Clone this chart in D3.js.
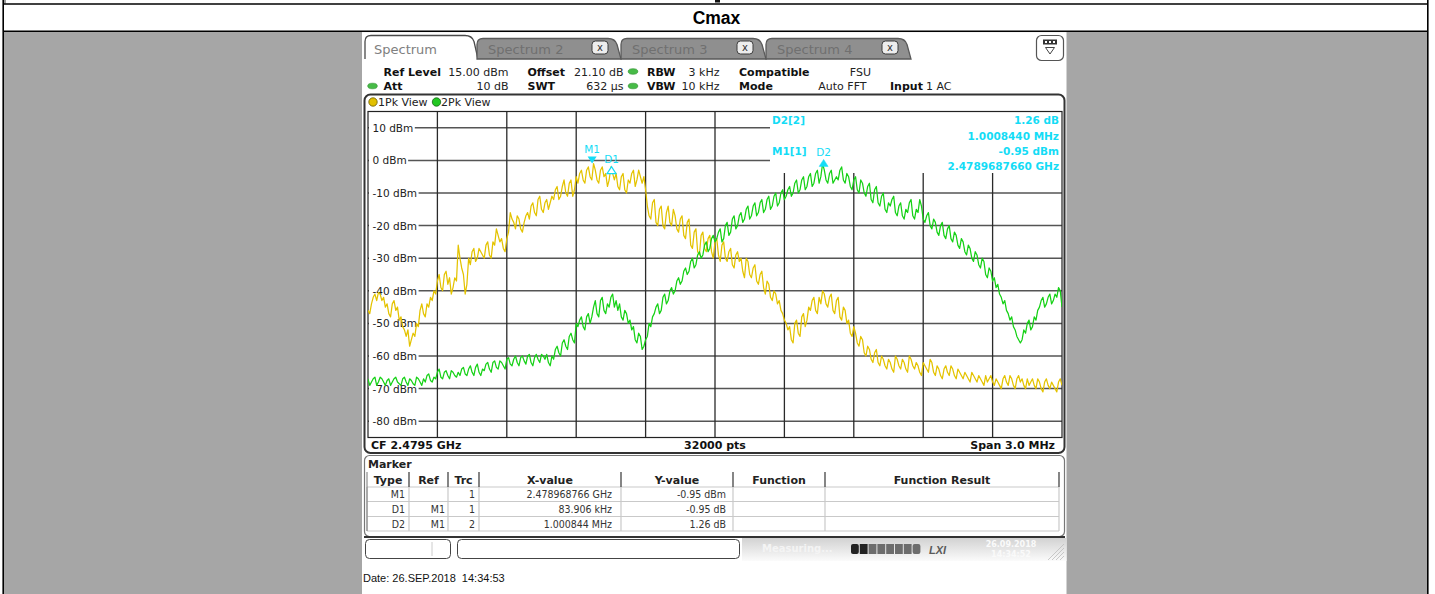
<!DOCTYPE html>
<html><head><meta charset="utf-8">
<script src="https://cdn.jsdelivr.net/npm/d3@7"></script>
<style>
html,body{margin:0;padding:0;background:#fff;}
svg{display:block;}
text{white-space:pre;}
</style></head><body>
<svg id="c" width="1435" height="594"></svg>
<script>
// ---------------- DATA ----------------
const chartTitle = "Cmax";
const startMHz = 2478.0;      // CF 2.4795 GHz, span 3.0 MHz
const stopMHz = 2481.0;
const refLevel = 15;          // dBm (top of grid)
const bottomLevel = -85;      // dBm (bottom of grid)
const yTickValues = [10, 0, -10, -20, -30, -40, -50, -60, -70, -80];
const xGridFreqs = [2478.3, 2478.6, 2478.9, 2479.2, 2479.5, 2479.8, 2480.1, 2480.4, 2480.7];
const sampleStepMHz = 0.0075;

// Trace 1 (1Pk View, yellow), dBm, every 15 kHz
const trace1Main = [
 -46,-44,-41,-40.5,-43,-45,-47,-44,-46,-49,-51,
 -54,-57,-53,-50,-46,-47,-44,-42,-40,-37,
 -39,-35,-38,-41,-36,-26,-33,-41,-30,-28,
 -31,-27,-29,-26,-29,-25,-21,-25,-27,-24,
 -16,-19,-17,-21,-19,-16,-14,-16,-12,-15,
 -13,-15,-11,-9,-12,-8,-10,-7,-11,-5,
 -4,-6,-3,-5,-1,-6,-3,-5,-8,-2,
 -6,-8,-5,-9,-6,-4,-8,-3,-7,-9,
 -17,-13,-19,-15,-20,-16,-19,-15,-21,-18,
 -23,-19,-26,-22,-28,-23,-27,-24,-28,-25,
 -29,-26,-30,-28,-32,-29,-31,-34,-30,-35,
 -33,-37,-35,-39,-37,-42,-40,-44,-46,-49,
 -52,-55,-50,-53,-48,-51,-45,-43,-46,-42,
 -40,-44,-42,-46,-43,-48,-45,-50,-53,-51,
 -56,-54,-59,-57,-61,-59,-62,-60,-63,-61,
 -64,-60,-63,-61,-64,-60,-63,-62,-65,-62,
 -64,-61,-65,-63,-66,-64,-65,-63,-66,-64,
 -66,-65,-67,-65,-67,-66,-68,-66,-67,-68,
 -67,-69,-67,-68,-66,-69,-67,-68,-69,-67,
 -68,-69,-67,-70,-68,-69,-68,-70,-68,-69
];
// Trace 1, the readings half-way between the samples above (noise peaks/dips)
const trace1Between = [
 -47,-42,-43,-41,-42,-44,-48,-43,-45,-48,
 -52,-52,-55,-54,-51,-44,-48,-45,-43,-41,
 -35,-40,-34,-36,-39,-37,-30,-35,-38,-32,
 -27,-30,-28,-30,-25,-30,-26,-23,-24,-28,
 -22,-18,-21,-18,-22,-17,-18,-13,-17,-11,
 -16,-12,-13,-12,-8,-11,-6,-11,-6,-9,
 -7,-3,-7,-2,-6,-3,-7,-2,-4,-6,
 -4,-4,-9,-4,-10,-7,-3,-6,-5,-5,
 -14,-18,-12,-20,-14,-21,-14,-20,-17,-22,
 -17,-24,-18,-27,-21,-29,-22,-28,-23,-30,
 -24,-31,-25,-31,-27,-33,-28,-30,-36,-31,
 -36,-32,-38,-34,-41,-38,-43,-41,-43,-47,
 -50,-51,-56,-49,-54,-47,-49,-46,-42,-47,
 -44,-41,-45,-41,-47,-42,-49,-46,-49,-54,
 -53,-57,-55,-60,-58,-62,-58,-63,-61,-64,
 -62,-65,-61,-64,-62,-65,-61,-64,-63,-66,
 -63,-65,-62,-66,-64,-67,-63,-66,-64,-67,
 -65,-67,-66,-68,-66,-68,-67,-69,-68,-66,
 -69,-68,-70,-66,-69,-67,-70,-66,-67,-70,
 -69,-67,-70,-68,-71,-67,-70,-69,-71,-67
];
// Trace 2 (2Pk View, green), dBm
const trace2Main = [
 -67,-68,-66.5,-68,-67,-69,-67,-68,-66.5,-68.5,-67,
 -68,-67,-68.5,-66.5,-68,-67,-66,-67.5,-66.5,-65,
 -66.5,-65,-66,-64.5,-66,-65,-64,-65.5,-64,-65,
 -63.5,-65,-64,-62.5,-64,-62,-63.5,-61.5,-63,-61,
 -62.5,-61,-62,-60.5,-61.5,-60,-62,-60.5,-61,-59.5,
 -61,-62,-60,-58,-59,-56,-57,-54,-55,-50,
 -49,-51,-48,-50,-45,-47,-43,-46,-44,-42,
 -45,-46,-48,-46,-50,-52,-55,-53,-58,-55,
 -50,-48,-45,-47,-42,-44,-40,-41,-37,-38,
 -34,-35,-31,-33,-29,-30,-26,-28,-24,-25,
 -22,-25,-20,-23,-18,-21,-17,-19,-15,-18,
 -14,-17,-13,-16,-12,-15,-11,-14,-10,-12,
 -9,-11,-7,-10,-6,-9,-5,-8,-4,-7,
 -1,-6,-4,-7,-5,-3,-6,-4,-8,-6,
 -9,-6,-10,-8,-12,-9,-13,-11,-15,-13,
 -12,-16,-14,-17,-15,-13,-17,-15,-12,-18,
 -17,-20,-18,-22,-20,-23,-21,-24,-22,-26,
 -24,-28,-26,-30,-28,-32,-30,-35,-33,-37,
 -39,-41,-44,-46,-49,-51,-54,-56,-52,-50,
 -52,-48,-46,-43,-45,-42,-44,-41,-39,-45
];
const trace2Between = [
 -69,-67,-69,-66.5,-68,-67.5,-69,-67,-68,-69,
 -66.5,-69,-67.5,-69,-67,-69,-68,-65.5,-68,-67,
 -64,-67,-64.5,-67,-65,-66.5,-66,-63.5,-66,-63,
 -66,-62.5,-66,-64.5,-62,-65,-61.5,-64,-62,-64,
 -60.5,-63,-60,-63,-60,-62.5,-59.5,-63,-59.5,-62,
 -60,-59.5,-63,-61,-57,-60,-55,-58,-53,-56,
 -51,-48,-52,-47,-48,-43,-48,-42,-47,-45,
 -41,-43,-44,-49,-47,-49,-51,-56,-54,-57,
 -54,-51,-47,-44,-46,-41,-43,-39,-40,-36,
 -37,-33,-34,-30,-32,-28,-29,-25,-27,-23,
 -24,-21,-24,-19,-22,-17,-20,-16,-18,-14,
 -17,-13,-16,-12,-15,-11,-14,-10,-13,-9,
 -11,-8,-10,-6,-9,-5,-8,-4,-7,-3,
 -5,-3,-7,-3,-6,-6,-2,-7,-5,-9,
 -5,-10,-7,-11,-7,-13,-8,-14,-10,-16,
 -14,-11,-17,-13,-18,-16,-12,-18,-16,-14,
 -19,-16,-21,-19,-23,-19,-24,-20,-25,-23,
 -27,-25,-29,-27,-31,-29,-33,-31,-36,-34,
 -36,-38,-42,-43,-47,-48,-52,-55,-55,-53,
 -49,-51,-49,-45,-42,-44,-41,-43,-42,-40
];

const markerNames  = ["M1", "D1", "D2"];
const markerFreqs  = [2478.968766, 2479.052672, 2479.969610];
const markerLevels = [-0.95, -1.90, 0.31];
const markerKinds  = ["normal", "delta-open", "delta"];

const tabLabels = ["Spectrum", "Spectrum 2", "Spectrum 3", "Spectrum 4"];
const infoLabels = ["Ref Level", "Offset", "RBW", "Compatible", "Att", "SWT", "VBW", "Mode", "Input"];
const infoValues = ["15.00 dBm", "21.10 dB", "3 kHz", "FSU", "10 dB", "632 µs", "10 kHz", "Auto FFT", "1 AC"];
const markerInfoLeft  = ["D2[2]", "M1[1]"];
const markerInfoRight = ["1.26 dB", "1.0008440 MHz", "-0.95 dBm", "2.4789687660 GHz"];
const footerTexts = ["CF 2.4795 GHz", "32000 pts", "Span 3.0 MHz"];
const tableHeaders = ["Type", "Ref", "Trc", "X-value", "Y-value", "Function", "Function Result"];
const tableType = ["M1", "D1", "D2"];
const tableRef  = ["", "M1", "M1"];
const tableTrc  = ["1", "1", "2"];
const tableX    = ["2.478968766 GHz", "83.906 kHz", "1.000844 MHz"];
const tableY    = ["-0.95 dBm", "-0.95 dB", "1.26 dB"];
const dateLine  = "Date: 26.SEP.2018  14:34:53";

// merge the two sets of readings into one sample sequence
function mergeReadings(main, between) {
  const out = [];
  main.forEach((v, i) => { out.push(v); if (i < between.length) out.push(between[i]); });
  return out;
}
const trace1 = mergeReadings(trace1Main, trace1Between);
const trace2 = mergeReadings(trace2Main, trace2Between);

// ---------------- DRAW ----------------
const svg = d3.select("#c");
const UI = "'DejaVu Sans', Verdana, sans-serif";
const ARIAL = "'Liberation Sans', Arial, sans-serif";
const CYAN = "#14dcf6";

// page / outer table
svg.append("rect").attr("width", 1435).attr("height", 594).attr("fill", "#fff");
svg.append("rect").attr("x", 4).attr("y", 32).attr("width", 1423.5).attr("height", 562).attr("fill", "#a6a6a6");
svg.append("rect").attr("x", 3.5).attr("y", 0).attr("width", 2.5).attr("height", 3.5).attr("fill", "#999");
svg.append("rect").attr("x", 715).attr("y", 0).attr("width", 5).attr("height", 2.5).attr("fill", "#111");
[[3.2, 0, 3.2, 594], [1427.8, 0, 1427.8, 594], [3, 4, 1428, 4], [3, 31.3, 1428, 31.3]].forEach(l =>
  svg.append("line").attr("x1", l[0]).attr("y1", l[1]).attr("x2", l[2]).attr("y2", l[3])
     .attr("stroke", "#000").attr("stroke-width", 1.6));
svg.append("text").attr("x", 716.5).attr("y", 24).attr("text-anchor", "middle")
  .attr("font-family", ARIAL).attr("font-weight", "bold").attr("font-size", 17.5).text(chartTitle);

// screenshot background
svg.append("rect").attr("x", 362).attr("y", 32.1).attr("width", 704.5).attr("height", 562).attr("fill", "#fff");

// tabs
const tabPos = [[365, 477], [477, 620], [621, 765], [766, 910]];
tabLabels.forEach((lab, i) => {
  const [x0, x1] = tabPos[i];
  const active = i === 0;
  const yt = active ? 35.5 : 38.5, yb = 59;
  const p = `M${x0},${yb} L${x0},${yt + 6} Q${x0},${yt} ${x0 + 6},${yt} L${x1 - 12},${yt} Q${x1 - 5},${yt} ${x1 - 3},${yt + 6} L${x1 + 1},${yb}` + (active ? "" : " Z");
  svg.append("path").attr("d", p).attr("fill", active ? "#fff" : "#8f8f8f")
    .attr("stroke", active ? "#4a4a4a" : "#5a5a5a").attr("stroke-width", 1.3);
  svg.append("text").attr("x", x0 + (active ? 9 : 11)).attr("y", 54).attr("font-family", UI)
    .attr("font-size", 13).attr("fill", active ? "#808080" : "#707070").text(lab);
  if (!active) {
    const cx = x1 - 20;
    svg.append("rect").attr("x", cx - 8).attr("y", 41).attr("width", 16).attr("height", 13).attr("rx", 3.5)
      .attr("fill", "#ededed").attr("stroke", "#3c3c3c").attr("stroke-width", 1);
    svg.append("text").attr("x", cx).attr("y", 51).attr("text-anchor", "middle").attr("font-family", UI)
      .attr("font-size", 10).attr("fill", "#333").text("x");
  }
});
// menu icon at right
svg.append("rect").attr("x", 1036.5).attr("y", 35.5).attr("width", 27).attr("height", 25).attr("rx", 5)
  .attr("fill", "#fff").attr("stroke", "#555").attr("stroke-width", 1.2);
svg.append("rect").attr("x", 1043).attr("y", 39.5).attr("width", 14).attr("height", 5).attr("fill", "#333");
[1046, 1050, 1054].forEach(cx => svg.append("rect").attr("x", cx - 1).attr("y", 41).attr("width", 2).attr("height", 2).attr("fill", "#fff"));
svg.append("path").attr("d", "M1045.5,47.5 L1054.5,47.5 L1050,54 Z").attr("fill", "none").attr("stroke", "#444").attr("stroke-width", 1);

// info rows
const infoLabelPos = [[383.5, 75.5], [527.5, 75.5], [647, 75.5], [739, 75.5], [383.5, 90], [527.5, 90], [647, 90], [739, 90], [890, 90]];
infoLabels.forEach((t, i) => svg.append("text").attr("x", infoLabelPos[i][0]).attr("y", infoLabelPos[i][1])
  .attr("font-family", UI).attr("font-weight", "bold").attr("font-size", 11).attr("fill", "#111").text(t));
const infoValuePos = [[508.5, 75.5, "end"], [623.5, 75.5, "end"], [719.5, 75.5, "end"], [871, 75.5, "end"],
  [508.5, 90, "end"], [623.5, 90, "end"], [719.5, 90, "end"], [866.5, 90, "end"], [926, 90, "start"]];
infoValues.forEach((t, i) => svg.append("text").attr("x", infoValuePos[i][0]).attr("y", infoValuePos[i][1])
  .attr("text-anchor", infoValuePos[i][2]).attr("font-family", UI).attr("font-size", 11).attr("fill", "#222").text(t));
[[633, 71.5], [633, 86], [372.5, 86]].forEach(p => svg.append("ellipse").attr("cx", p[0]).attr("cy", p[1])
  .attr("rx", 4.8).attr("ry", 2.8).attr("fill", "#47bb47").attr("stroke", "#2e8f2e").attr("stroke-width", 0.6));

// plot window frame
svg.append("rect").attr("x", 364.5).attr("y", 94.5).attr("width", 700).attr("height", 358.5).attr("rx", 6)
  .attr("fill", "#fff").attr("stroke", "#333").attr("stroke-width", 2);
// view legend
svg.append("circle").attr("cx", 373).attr("cy", 102).attr("r", 4.2).attr("fill", "#e2c000").attr("stroke", "#6a5a00").attr("stroke-width", 0.8);
svg.append("text").attr("x", 378).attr("y", 106).attr("font-family", UI).attr("font-size", 11).attr("fill", "#222").text("1Pk View");
svg.append("circle").attr("cx", 436.5).attr("cy", 102).attr("r", 4.2).attr("fill", "#22c822").attr("stroke", "#146414").attr("stroke-width", 0.8);
svg.append("text").attr("x", 441).attr("y", 106).attr("font-family", UI).attr("font-size", 11).attr("fill", "#222").text("2Pk View");

// scales
const plotL = 368, plotR = 1062, plotT = 111.5, plotB = 437.5;
const x = d3.scaleLinear().domain([startMHz, stopMHz]).range([plotL, plotR]);
const y = d3.scaleLinear().domain([bottomLevel, refLevel]).range([plotB, plotT]);
const boxL = 770, boxB = 173;

const grid = svg.append("g");
yTickValues.forEach(v => {
  const yy = y(v);
  grid.append("line").attr("x1", plotL).attr("x2", yy < boxB ? boxL : plotR).attr("y1", yy).attr("y2", yy)
    .attr("stroke", "#555").attr("stroke-width", 1.5);
});
xGridFreqs.forEach(f => {
  const xx = x(f);
  grid.append("line").attr("x1", xx).attr("x2", xx).attr("y1", xx > boxL ? boxB : plotT).attr("y2", plotB)
    .attr("stroke", "#2a2a2a").attr("stroke-width", 1.3);
});
svg.append("rect").attr("x", plotL).attr("y", plotT).attr("width", plotR - plotL).attr("height", plotB - plotT)
  .attr("fill", "none").attr("stroke", "#222").attr("stroke-width", 1.2);

// y labels with white background
const yAxis = svg.append("g");
yTickValues.forEach(v => {
  const g = yAxis.append("g");
  const bg = g.append("rect").attr("fill", "#fff");
  const t = g.append("text").attr("x", 372.5).attr("y", y(v) + 4).attr("font-family", UI).attr("font-size", 10.5)
    .attr("fill", "#222").text(v + " dBm");
  const w = t.node().getComputedTextLength();
  bg.attr("x", 369).attr("y", y(v) - 6).attr("width", w + 5).attr("height", 12);
});

// traces
svg.append("clipPath").attr("id", "clip").append("rect").attr("x", plotL).attr("y", plotT)
  .attr("width", plotR - plotL).attr("height", plotB - plotT);
const line = d3.line().x((d, i) => x(startMHz + i * sampleStepMHz)).y(d => y(d));
const traces = svg.append("g").attr("clip-path", "url(#clip)");
traces.append("path").datum(trace1).attr("d", line).attr("fill", "none").attr("stroke", "#e4c300")
  .attr("stroke-width", 1.25).attr("stroke-linejoin", "round");
traces.append("path").datum(trace2).attr("d", line).attr("fill", "none").attr("stroke", "#16d116")
  .attr("stroke-width", 1.25).attr("stroke-linejoin", "round");

// markers
markerNames.forEach((name, i) => {
  const mx = x(markerFreqs[i]), my = y(markerLevels[i]);
  if (markerKinds[i] === "normal") {
    svg.append("path").attr("d", `M${mx - 4.5},${my - 7} L${mx + 4.5},${my - 7} L${mx},${my} Z`).attr("fill", CYAN);
    svg.append("text").attr("x", mx).attr("y", my - 10).attr("text-anchor", "middle").attr("font-family", UI)
      .attr("font-size", 10.5).attr("fill", CYAN).text(name);
  } else {
    const open = markerKinds[i] === "delta-open";
    svg.append("path").attr("d", `M${mx - 4.5},${my + 7} L${mx + 4.5},${my + 7} L${mx},${my} Z`)
      .attr("fill", open ? "#fff" : CYAN).attr("stroke", CYAN).attr("stroke-width", open ? 1.2 : 0.5);
    svg.append("text").attr("x", mx).attr("y", my - 3.5).attr("text-anchor", "middle").attr("font-family", UI)
      .attr("font-size", 10.5).attr("fill", CYAN).text(name);
  }
});

// marker info box (top right)
[[124, 0], [155, 1]].forEach(p => svg.append("text").attr("x", 772).attr("y", p[0]).attr("font-family", UI)
  .attr("font-weight", "bold").attr("font-size", 10.5).attr("fill", CYAN).text(markerInfoLeft[p[1]]));
[124, 139.5, 155, 170].forEach((yy, i) => svg.append("text").attr("x", 1059).attr("y", yy).attr("text-anchor", "end")
  .attr("font-family", UI).attr("font-weight", "bold").attr("font-size", 10.5).attr("fill", CYAN).text(markerInfoRight[i]));

// footer row of the diagram
svg.append("text").attr("x", 371).attr("y", 448.5).attr("font-family", UI).attr("font-weight", "bold").attr("font-size", 11).attr("fill", "#111").text(footerTexts[0]);
svg.append("text").attr("x", 715).attr("y", 448.5).attr("text-anchor", "middle").attr("font-family", UI).attr("font-weight", "bold").attr("font-size", 11).attr("fill", "#111").text(footerTexts[1]);
svg.append("text").attr("x", 1055).attr("y", 448.5).attr("text-anchor", "end").attr("font-family", UI).attr("font-weight", "bold").attr("font-size", 11).attr("fill", "#111").text(footerTexts[2]);

// marker table panel
svg.append("rect").attr("x", 364.5).attr("y", 455.5).attr("width", 700).attr("height", 81).attr("rx", 5)
  .attr("fill", "#fff").attr("stroke", "#777").attr("stroke-width", 1.2);
svg.append("line").attr("x1", 364).attr("x2", 1065).attr("y1", 537).attr("y2", 537).attr("stroke", "#333").attr("stroke-width", 2);
svg.append("text").attr("x", 368).attr("y", 467.5).attr("font-family", UI).attr("font-weight", "bold").attr("font-size", 11).attr("fill", "#222").text("Marker");

const cols = [367, 409, 448, 479, 621, 733, 825, 1059];
const rowLines = [487, 501.5, 516.5, 531];
rowLines.forEach(yy => svg.append("line").attr("x1", cols[0]).attr("x2", cols[7]).attr("y1", yy).attr("y2", yy)
  .attr("stroke", "#c9c9c9").attr("stroke-width", 1.2));
cols.forEach(cx => svg.append("line").attr("x1", cx).attr("x2", cx).attr("y1", 487).attr("y2", 531)
  .attr("stroke", "#c9c9c9").attr("stroke-width", 1.2));
cols.slice(1).forEach(cx => svg.append("line").attr("x1", cx).attr("x2", cx).attr("y1", 472).attr("y2", 487)
  .attr("stroke", "#444").attr("stroke-width", 1.3));
svg.append("line").attr("x1", cols[0]).attr("x2", cols[0]).attr("y1", 472).attr("y2", 531).attr("stroke", "#777").attr("stroke-width", 1);
tableHeaders.forEach((h, i) => svg.append("text").attr("x", (cols[i] + cols[i + 1]) / 2).attr("y", 484)
  .attr("text-anchor", "middle").attr("font-family", UI).attr("font-weight", "bold").attr("font-size", 11).attr("fill", "#222").text(h));
const rowBase = [498, 513, 527.5];
const colRight = [405, 445, 475, 612, 726];
[tableType, tableRef, tableTrc, tableX, tableY].forEach((col, c) => col.forEach((v, r) =>
  svg.append("text").attr("x", colRight[c]).attr("y", rowBase[r]).attr("text-anchor", "end")
    .attr("font-family", "'DejaVu Sans Condensed','DejaVu Sans',sans-serif").attr("font-size", 10.5).attr("fill", "#333").text(v)));

// status bar
const defs = svg.append("defs");
const grad = defs.append("linearGradient").attr("id", "sb").attr("x1", 0).attr("y1", 0).attr("x2", 0).attr("y2", 1);
grad.append("stop").attr("offset", "0%").attr("stop-color", "#d2d2d2");
grad.append("stop").attr("offset", "100%").attr("stop-color", "#fbfbfb");
svg.append("rect").attr("x", 742).attr("y", 538).attr("width", 324.5).attr("height", 23).attr("fill", "url(#sb)");
svg.append("rect").attr("x", 365.5).attr("y", 539.5).attr("width", 85).attr("height", 19).attr("rx", 4)
  .attr("fill", "#fff").attr("stroke", "#444").attr("stroke-width", 1);
svg.append("line").attr("x1", 432).attr("x2", 432).attr("y1", 542).attr("y2", 556).attr("stroke", "#ccc");
svg.append("rect").attr("x", 457.5).attr("y", 539.5).attr("width", 282).attr("height", 19).attr("rx", 4)
  .attr("fill", "#fff").attr("stroke", "#444").attr("stroke-width", 1);
svg.append("text").attr("x", 762).attr("y", 551.5).attr("font-family", UI).attr("font-weight", "bold").attr("font-size", 10)
  .attr("fill", "#f4f4f4").text("Measuring...");
d3.range(8).forEach(k => svg.append("rect").attr("x", 851 + k * 8.8).attr("y", 544).attr("width", 7.8).attr("height", 10)
  .attr("rx", k === 0 || k === 7 ? 2 : 0).attr("fill", k < 2 ? "#232323" : "#6d6d6d"));
svg.append("text").attr("x", 929).attr("y", 553.5).attr("font-family", ARIAL).attr("font-style", "italic").attr("font-weight", "bold")
  .attr("font-size", 11).attr("fill", "#5a5a5a").text("LXI");
svg.append("text").attr("x", 1011).attr("y", 547).attr("text-anchor", "middle").attr("font-family", UI).attr("font-weight", "bold")
  .attr("font-size", 8).attr("fill", "#fafafa").text("26.09.2018");
svg.append("text").attr("x", 1011).attr("y", 556.5).attr("text-anchor", "middle").attr("font-family", UI).attr("font-weight", "bold")
  .attr("font-size", 8).attr("fill", "#fafafa").text("14:34:52");
d3.range(5).forEach(k => svg.append("line").attr("x1", 1048 + k * 4).attr("y1", 560).attr("x2", 1064).attr("y2", 544 + k * 4)
  .attr("stroke", "#bdbdbd").attr("stroke-width", 0.8));

// date footer
svg.append("text").attr("x", 363).attr("y", 582).attr("font-family", ARIAL).attr("font-size", 11).attr("fill", "#111").text(dateLine);
</script>
</body></html>
